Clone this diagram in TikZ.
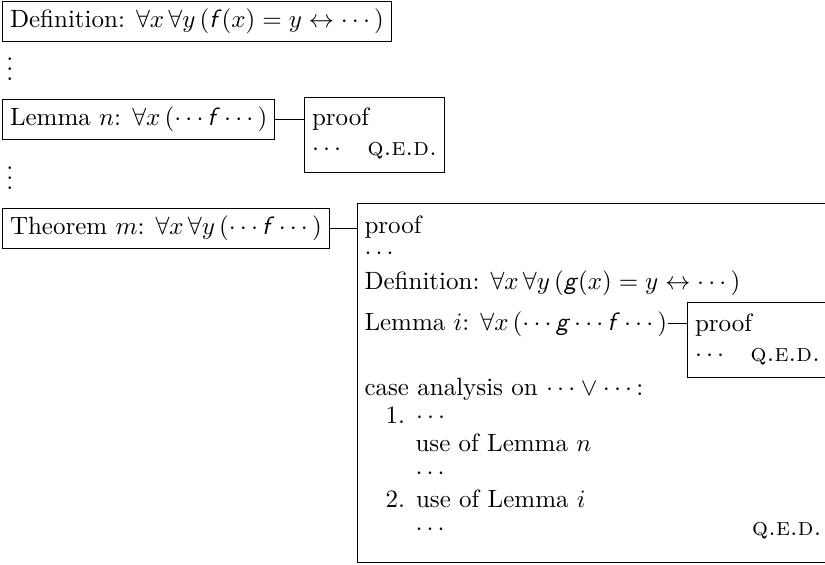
\documentclass[tikz,border=0pt]{standalone}
\usepackage{amsmath}
\usetikzlibrary{positioning}
\newcommand{\fsym}{\mathop{\textsf{\slshape f\/}}}
\newcommand{\gsym}{\mathop{\textsf{\slshape g\/}}}
\newcommand{\qedtxt}{\textsc{q.e.d.}}

\begin{document}
\begin{tikzpicture}[x=0.4pt,y=-0.4pt,
    stmt/.style={draw, inner sep=3pt},
    pfbox/.style={draw, inner sep=3pt, text width=50pt, align=left},
    txt/.style={anchor=base west, inner sep=0pt}]
  \useasboundingbox (0,0) rectangle (825,565);

  % top level
  \node[stmt, anchor=north west] (def) at (2,1)
    {Definition: $\forall x\,\forall y\,(\fsym(x)=y\leftrightarrow\cdots)$};
  \node[anchor=north west, inner sep=0pt] (dotsa) at (6,42) {$\vdots$};

  \node[stmt, anchor=north west] (lemn) at (2,99)
    {Lemma $n$: $\forall x\,(\cdots\fsym\cdots)$};
  \node[pfbox, anchor=north west] (lemnpf) at (304,97)
    {\strut proof\\\strut$\cdots$\hfill\qedtxt};
  \draw (lemn.east) -- (lemn.east -| lemnpf.west);
  \node[anchor=north west, inner sep=0pt] (dotsb) at (6,151) {$\vdots$};

  \node[stmt, anchor=north west] (thm) at (2,208)
    {Theorem $m$: $\forall x\,\forall y\,(\cdots\fsym\cdots)$};

  % proof of the theorem
  \coordinate (thmpf) at (357,204);
  \draw (thmpf) rectangle (832,562);
  \draw (thm.east) -- (thm.east -| thmpf);

  \node[txt] (pa) at (364,233) {proof};
  \node[txt] (pb) at (364,259) {$\cdots$};
  \node[txt] (pc) at (364,290) {Definition: $\forall x\,\forall y\,(\gsym(x)=y\leftrightarrow\cdots)$};
  \node[txt] (lemi) at (364,330) {Lemma $i$: $\forall x\,(\cdots\gsym\cdots\fsym\cdots)$};
  \node[pfbox, anchor=north west] (lemipf) at (687,302)
    {\strut proof\\\strut$\cdots$\hfill\qedtxt};
  \draw (lemi.east) -- (lemi.east -| lemipf.west);

  \node[txt] (pd) at (364,395) {case analysis on $\cdots\vee\cdots$:};
  \node[txt] (pe) at (385,423) {1. $\cdots$};
  \node[txt] (pf) at (415,451) {use of Lemma $n$};
  \node[txt] (pg) at (415,479) {$\cdots$};
  \node[txt] (ph) at (385,507) {2. use of Lemma $i$};
  \node[txt] (pi) at (415,535) {$\cdots$};
  \node[txt, anchor=base east] (pj) at (822,535) {\qedtxt};
\end{tikzpicture}
\end{document}
